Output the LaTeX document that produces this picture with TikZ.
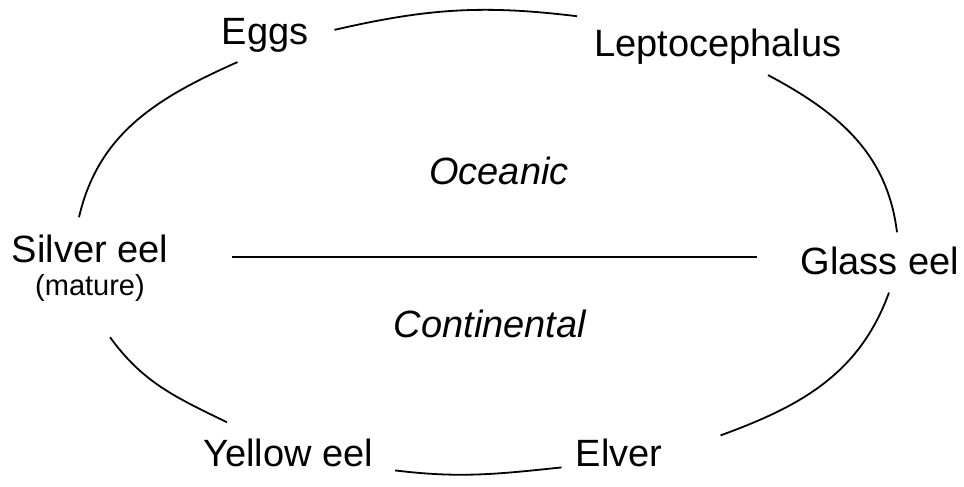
\documentclass[tikz,border=0pt]{standalone}
\usepackage{fontspec}
\setmainfont{Liberation Sans}
\usepackage{tikz}
\usetikzlibrary{positioning, calc}
\tikzset{
         mystage/.style={inner sep=0pt, anchor=base, font=\fontsize{38}{44}\selectfont},
         mynote/.style={inner sep=0pt, anchor=base, font=\fontsize{29}{34}\selectfont},
         myzone/.style={inner sep=0pt, anchor=base, font=\fontsize{38}{44}\selectfont\itshape},
         mycurve/.style={draw, line width=1.8pt}
      }
\begin{document}
\begin{tikzpicture}[x=1pt,y=1pt]
  \useasboundingbox (0,0) rectangle (964,487);
  % life stages
  \node[mystage] (eggs)   at (265,442) {Eggs};
  \node[mystage] (lepto)  at (718,430) {Leptocephalus};
  \node[mystage] (glass)  at (880,212) {Glass eel};
  \node[mystage] (elver)  at (619,20)  {Elver};
  \node[mystage] (yellow) at (288,20)  {Yellow eel};
  \node[mystage] (silver) at (90,224)  {Silver eel};
  \node[mynote]  (mature) at (90,191)  {(mature)};
  % zones
  \node[myzone] (ocean) at (499,302) {Oceanic};
  \node[myzone] (cont)  at (490,149) {Continental};
  \coordinate (divl) at (232,230);
  \coordinate (divr) at (757,230);
  \draw[mycurve] (divl) -- (divr);
  % the cycle
  \path[mycurve] ([shift={(26,6)}]eggs.east)
        to[out=13,in=173] ([shift={(-17,13)}]lepto.north west);
  \path[mycurve] ([shift={(50,-10)}]lepto.south)
        to[out=-28,in=97] ([shift={(17,15)}]glass.north);
  \path[mycurve] ([shift={(9,-17)}]glass.south)
        to[out=-110,in=20] ([shift={(58,18)}]elver.east);
  \path[mycurve] ([shift={(-14,-14)}]elver.west)
        to[out=186,in=-7] ([shift={(22,-17)}]yellow.east);
  \path[mycurve] ([shift={(24,17)}]yellow.north west)
        to[out=154,in=-54] ([shift={(20,-35)}]mature.south);
  \path[mycurve] ([shift={(-11,18)}]silver.north)
        to[out=77,in=-156] ([shift={(16,-9)}]eggs.south west);
\end{tikzpicture}
\end{document}
